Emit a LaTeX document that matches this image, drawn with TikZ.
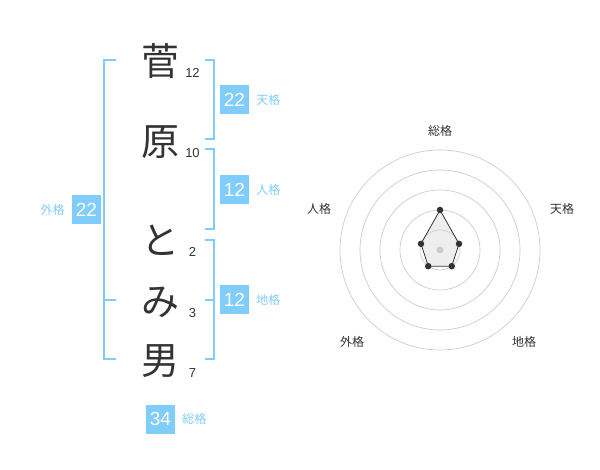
\documentclass[tikz,border=0pt]{standalone}
\usepackage{fontspec}
\setmainfont{Liberation Sans}
\newfontfamily\cjk{Noto Sans CJK JP}
\usepackage{xcolor}
\usetikzlibrary{positioning, calc}
\definecolor{kakublue}{RGB}{128, 204, 250}
\definecolor{textdark}{RGB}{51, 51, 51}
\definecolor{ringgray}{RGB}{204, 204, 204}
\definecolor{areagray}{RGB}{238, 238, 238}

\begin{document}
\begin{tikzpicture}[
        x=1pt, y=-1pt,
        kanji/.style={text=textdark, font=\cjk\fontsize{38}{38}\selectfont, inner sep=0pt},
        stroke/.style={text=textdark, font=\fontsize{13}{13}\selectfont, inner sep=0pt},
        kakubox/.style={rectangle, fill=kakublue, minimum size=29pt, inner sep=0pt, text=white, font=\fontsize{19}{19}\selectfont},
        kakulabel/.style={text=kakublue, font=\cjk\fontsize{12}{12}\selectfont, inner sep=0pt},
        bracket/.style={draw=kakublue, line width=2pt},
        ring/.style={draw=ringgray, line width=0.7pt},
        axislabel/.style={text=textdark, font=\cjk\fontsize{12}{12}\selectfont, inner sep=0pt},
        dot/.style={circle, fill=textdark, minimum size=6.5pt, inner sep=0pt}
    ]
    \useasboundingbox (0,0) rectangle (600,470);

    % Name characters
    \node[kanji] (c1) at (160.5, 61) {菅};
    \node[kanji] (c2) at (160.5, 142) {原};
    \node[kanji] (c3) at (160.5, 240) {と};
    \node[kanji] (c4) at (160.5, 302) {み};
    \node[kanji] (c5) at (160.5, 361) {男};

    % Stroke counts
    \node[stroke] (n1) at (192.5, 73) {12};
    \node[stroke] (n2) at (192.5, 153) {10};
    \node[stroke] (n3) at (192.5, 252) {2};
    \node[stroke] (n4) at (192.5, 313) {3};
    \node[stroke] (n5) at (192.5, 373) {7};

    % Brackets
    \draw[bracket] (116, 60) -- (104, 60) -- (104, 359) -- (116, 359);
    \draw[bracket] (104, 300) -- (116, 300);
    \draw[bracket] (205, 60) -- (214, 60) -- (214, 139) -- (205, 139);
    \draw[bracket] (205, 149) -- (214, 149) -- (214, 229) -- (205, 229);
    \draw[bracket] (205, 240) -- (214, 240) -- (214, 359) -- (205, 359);
    \draw[bracket] (205, 300) -- (214, 300);

    % Fortune boxes
    \node[kakubox] (ten) at (234.5, 100) {22};
    \node[kakulabel, right=7pt of ten] (tenl) {天格};
    \node[kakubox] (jin) at (234.5, 190) {12};
    \node[kakulabel, right=7pt of jin] (jinl) {人格};
    \node[kakubox] (chi) at (234.5, 300) {12};
    \node[kakulabel, right=7pt of chi] (chil) {地格};
    \node[kakubox] (gai) at (86.5, 210) {22};
    \node[kakulabel, left=7pt of gai] (gail) {外格};
    \node[kakubox] (sou) at (160.5, 419) {34};
    \node[kakulabel, right=7pt of sou] (soul) {総格};

    % Radar chart
    \coordinate (o) at (440, 250);
    \fill[areagray] ($(o)+(-90:40)$) -- ($(o)+(-18:20)$) -- ($(o)+(54:20)$) -- ($(o)+(126:20)$) -- ($(o)+(198:20)$) -- cycle;
    \foreach \r in {20, 40, 60, 80, 100}
        \draw[ring] (o) circle (\r);
    \draw[textdark, line width=0.8pt] ($(o)+(-90:40)$) coordinate (p1) -- ($(o)+(-18:20)$) coordinate (p2) -- ($(o)+(54:20)$) coordinate (p3) -- ($(o)+(126:20)$) coordinate (p4) -- ($(o)+(198:20)$) coordinate (p5) -- cycle;
    \foreach \p in {p1, p2, p3, p4, p5}
        \node[dot] at (\p) {};
    \node[circle, fill=ringgray, minimum size=7pt, inner sep=0pt] (center) at (o) {};

    \node[axislabel] (sou2) at (440, 131) {総格};
    \node[axislabel] (ten2) at (562, 209) {天格};
    \node[axislabel] (jin2) at (319, 209) {人格};
    \node[axislabel] (gai2) at (352, 342) {外格};
    \node[axislabel] (chi2) at (524, 342) {地格};

    \end{tikzpicture}
\end{document}
